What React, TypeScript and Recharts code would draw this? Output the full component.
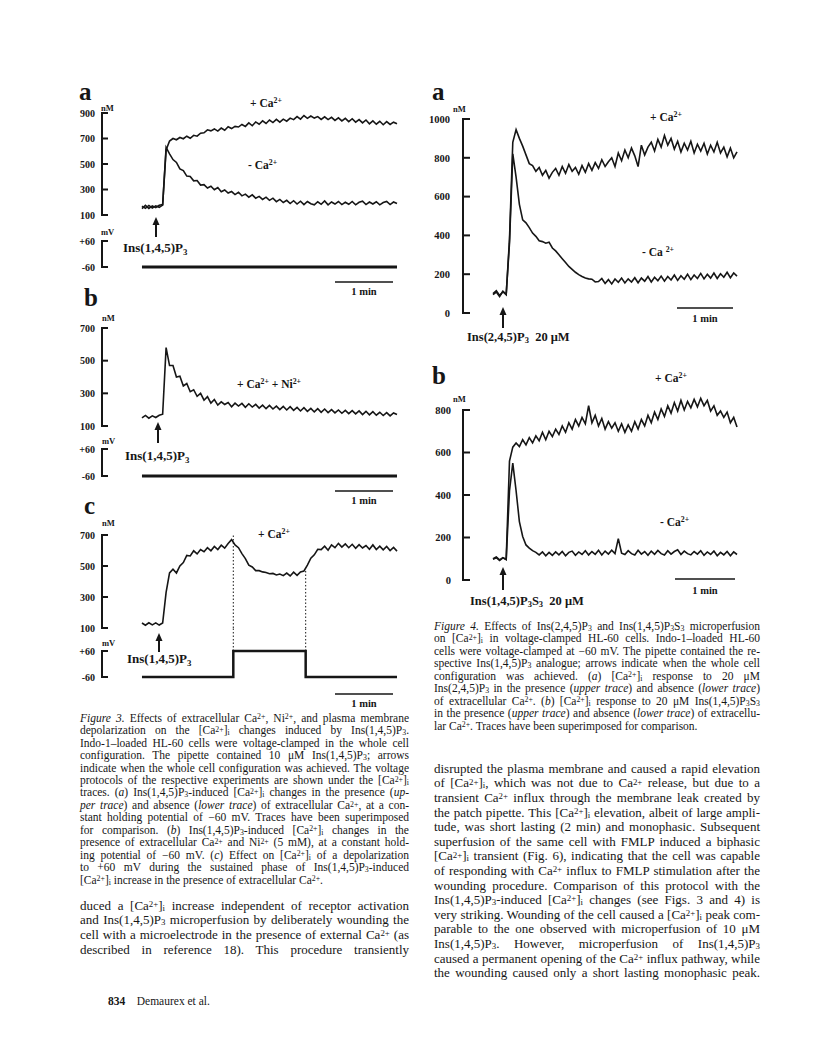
import React from 'react';
import { LineChart, Line, XAxis, YAxis, ReferenceLine } from 'recharts';

const INK = '#161616';
const SERIF = '"Liberation Serif", "Times New Roman", serif';

// Fig. 3a: [Ca2+]i in nM, one sample every ~3.5 s, + Ca2+ and - Ca2+
const fig3aPlusCa = [
  150, 175, 152, 172, 158, 176, 182, 610, 680, 700,
  690, 708, 698, 718, 702, 725, 718, 742, 745, 768,
  760, 775, 758, 782, 765, 792, 778, 795, 790, 810,
  795, 822, 800, 830, 812, 838, 818, 845, 825, 850,
  828, 852, 836, 860, 848, 872, 852, 880, 858, 876,
  860, 872, 850, 870, 848, 866, 842, 862, 838, 858,
  832, 855, 828, 848, 822, 845, 815, 838, 812, 835,
  808, 832, 810, 828, 815,
];
const fig3aMinusCa = [
  170, 152, 175, 155, 172, 160, 178, 630, 580, 535,
  512, 462, 448, 405, 402, 368, 370, 335, 338, 312,
  326, 298, 316, 282, 296, 272, 284, 260, 278, 250,
  264, 240, 258, 232, 246, 222, 240, 215, 232, 205,
  222, 198, 215, 190, 212, 186, 208, 182, 206, 188,
  180, 204, 184, 210, 180, 202, 186, 206, 182, 200,
  184, 206, 180, 200, 208, 182, 202, 186, 204, 180,
  198, 206, 182, 202, 190,
];
// Fig. 3b: + Ca2+ + Ni2+
const fig3bCaNi = [
  150, 165, 148, 162, 152, 166, 172, 580, 470, 470,
  400, 405, 345, 360, 310, 322, 282, 300, 258, 280,
  240, 262, 228, 248, 232, 244, 218, 240, 222, 238,
  214, 236, 216, 232, 210, 228, 206, 226, 204, 222,
  200, 220, 198, 218, 196, 214, 192, 212, 190, 208,
  186, 206, 184, 204, 182, 200, 180, 198, 178, 196,
  176, 194, 174, 192, 170, 190, 168, 188, 166, 184,
  164, 182, 162, 180, 170,
];
// Fig. 3c: + Ca2+ with depolarization step
const fig3cCa = [
  132, 118, 134, 120, 133, 119, 132, 330, 455, 480,
  455, 500, 522, 568, 565, 598, 578, 606, 592, 618,
  598, 626, 606, 634, 615, 645, 670, 636, 618, 580,
  548, 505, 494, 470, 470, 462, 458, 450, 452, 442,
  448, 438, 454, 436, 460, 440, 462, 468, 505, 550,
  572, 608, 606, 628, 602, 636, 618, 646, 622, 642,
  618, 640, 614, 638, 616, 632, 608, 636, 606, 628,
  604, 626, 600, 620, 596,
];
// Fig. 4a: Ins(2,4,5)P3
const fig4aPlusCa = [
  100, 115, 90, 110, 94, 380, 880, 945, 900, 860,
  815, 770, 760, 730, 750, 710, 735, 695, 725, 745,
  710, 755, 720, 765, 730, 750, 715, 760, 725, 770,
  735, 775, 745, 790, 755, 780, 800, 755, 825, 785,
  840, 800, 850, 810, 755, 865, 815, 855, 880, 835,
  895, 855, 915, 865, 900, 845, 885, 830, 875, 840,
  885, 825, 870, 835, 875, 820, 865, 830, 880, 825,
  855, 805, 850, 800, 830,
];
const fig4aMinusCa = [
  95, 108, 85, 112, 96, 360, 820, 700, 560, 480,
  465, 440, 412, 395, 372, 368, 360, 365, 335, 320,
  300, 280, 260, 240, 225, 210, 198, 188, 180, 176,
  174, 160, 162, 178, 152, 172, 150, 175, 158, 180,
  155, 176, 160, 182, 156, 180, 164, 188, 160, 184,
  166, 190, 164, 188, 170, 196, 168, 192, 174, 200,
  172, 196, 178, 204, 176, 200, 180, 206, 178, 202,
  184, 210, 182, 206, 190,
];
// Fig. 4b: Ins(1,4,5)P3S3
const fig4bPlusCa = [
  100, 108, 95, 105, 98, 560, 625, 645, 628, 660,
  636, 670, 645, 678, 655, 695, 660, 700, 675, 710,
  685, 725, 695, 740, 710, 755, 725, 765, 735, 820,
  740, 775, 725, 760, 710, 745, 715, 740, 700, 735,
  695, 730, 700, 745, 710, 755, 725, 775, 740, 790,
  755, 805, 770, 820, 785, 835, 795, 845, 800, 840,
  810, 850, 815, 855, 820, 845, 795, 820, 775, 795,
  765, 790, 740, 765, 720,
];
const fig4bMinusCa = [
  98, 105, 92, 104, 96, 420, 550, 420, 275, 205,
  165, 150, 138, 130, 118, 132, 114, 130, 116, 132,
  118, 134, 114, 130, 136, 116, 132, 120, 138, 118,
  134, 121, 140, 118, 136, 122, 140, 124, 195, 126,
  120, 138, 124, 118, 140, 122, 134, 116, 136, 121,
  139, 124, 118, 138, 122, 134, 142, 120, 136, 124,
  118, 134, 122, 138, 116, 132, 120, 136, 114, 130,
  118, 134, 114, 132, 120,
];

// voltage protocols (sample index, mV)
const holdIdx = [0, 74];
const holdMv = [-60, -60];
const stepIdx = [0, 26.5, 47.5, 74];
const stepMv = [-60, 60, -60, -60];

const ticks3a = [100, 300, 500, 700, 900];
const ticks3bc = [100, 300, 500, 700];
const ticks4a = [0, 200, 400, 600, 800, 1000];
const ticks4b = [0, 200, 400, 600, 800];
const mvTicks = [-60, 60];

const toRows = (cols: Record<string, number[]>) => {
  const keys = Object.keys(cols);
  return cols[keys[0]].map((_, i) => {
    const r: any = { i };
    keys.forEach((k) => (r[k] = cols[k][i]));
    return r;
  });
};
const protoRows = (idx: number[], mv: number[]) => idx.map((t, k) => ({ i: t, v: mv[k] }));

const rows3a = toRows({ up: fig3aPlusCa, lo: fig3aMinusCa });
const rows3b = toRows({ v: fig3bCaNi });
const rows3c = toRows({ v: fig3cCa });
const rows4a = toRows({ up: fig4aPlusCa, lo: fig4aMinusCa });
const rows4b = toRows({ up: fig4bPlusCa, lo: fig4bMinusCa });
const holdRows = protoRows(holdIdx, holdMv);
const stepRows = protoRows(stepIdx, stepMv);

const mvFmt = (v: number) => (v > 0 ? `+${v}` : `${v}`);

const BracketTick = (p: any) => {
  const { x, y, payload, gap, len, fmt, fs } = p;
  return (
    <g>
      <line x1={x - 1} x2={x + len} y1={y} y2={y} stroke={INK} strokeWidth={2} />
      <text x={x - gap} y={y} dy="0.36em" textAnchor="end" fill={INK}
        fontFamily={SERIF} fontWeight="bold" fontSize={fs}>
        {fmt ? fmt(payload.value) : payload.value}
      </text>
    </g>
  );
};

type Geo = { left: number; width: number; axisW: number; xDomain: [number, number] };
const G3: Geo = { left: 60, width: 339, axisW: 42, xDomain: [-11.6, 74] };
const G4: Geo = { left: 420, width: 319, axisW: 43, xDomain: [-9.1, 74] };

function Trace(props: any) {
  const { geo, top, height, mt = 10, mb = 5, data, keys, domain, axisSpan, ticks,
    gap = 7, len = 6, fs = 10, fmt, sw = 1.6, step = false, children } = props;
  const x0 = geo.xDomain[0];
  return (
    <div style={{ position: 'absolute', left: geo.left, top }}>
      <LineChart width={geo.width} height={height} data={data}
        margin={{ top: mt, right: 2, bottom: mb, left: 0 }}>
        <XAxis type="number" dataKey="i" domain={geo.xDomain} hide />
        <YAxis type="number" domain={domain} ticks={ticks} interval={0} width={geo.axisW}
          axisLine={false} tickLine={false} tickSize={0} tickMargin={0}
          tick={<BracketTick gap={gap} len={len} fmt={fmt} fs={fs} />} />
        <ReferenceLine segment={[{ x: x0, y: axisSpan[0] }, { x: x0, y: axisSpan[1] }]}
          stroke={INK} strokeWidth={2} ifOverflow="visible" />
        {children}
        {keys.map((k: string) => (
          <Line key={k} dataKey={k} type={step ? 'stepAfter' : 'linear'} dot={false}
            stroke={INK} strokeWidth={sw} isAnimationActive={false} />
        ))}
      </LineChart>
    </div>
  );
}

// super/subscripts: raised more inside the figures, less in running text
const Su = ({ t }: { t: string }) => <span className="su">{t}</span>;
const Sb = ({ t }: { t: string }) => <span className="sb">{t}</span>;
const Ca = () => <>Ca<Su t="2+" /></>;
const CaI = () => <>[Ca<Su t="2+" />]<Sb t="i" /></>;
const Ins = ({ n = '1,4,5' }: { n?: string }) => <>Ins({n})P<Sb t="3" /></>;

const CSS = `
.su, .sb { font-size: 0.68em; position: relative; line-height: 0; }
.fig .su { top: -0.5em; } .fig .sb { top: 0.3em; }
.txt .su { top: -0.3em; } .txt .sb { top: 0.12em; }
`;

const Lbl = ({ x, y, s = 11.5, b = true, children }: any) => (
  <div className="fig" style={{ position: 'absolute', left: x, top: y - s * 0.6, fontSize: s,
    lineHeight: `${s * 1.2}px`, fontWeight: b ? 'bold' : 'normal', whiteSpace: 'nowrap' }}>{children}</div>
);

const Arrow = ({ x, y1, y2 }: { x: number; y1: number; y2: number }) => (
  <g>
    <line x1={x} x2={x} y1={y1 + 6} y2={y2} stroke={INK} strokeWidth={2} />
    <polygon points={`${x - 3.5},${y1 + 8} ${x + 3.5},${y1 + 8} ${x},${y1}`} fill={INK} />
  </g>
);
const ScaleBar = ({ x1, x2, y, ty }: { x1: number; x2: number; y: number; ty: number }) => (
  <g>
    <line x1={x1} x2={x2} y1={y} y2={y} stroke={INK} strokeWidth={1.5} />
    <text x={(x1 + x2) / 2} y={ty} dy="0.35em" textAnchor="middle" fontFamily={SERIF}
      fontWeight="bold" fontSize={10.5} fill={INK}>1 min</text>
  </g>
);

function Para({ x, y0, lh, w, fs, lines, lastLeft = false }: any) {
  return (
    <>
      {lines.map((ln: React.ReactNode, k: number) => (
        <div key={k} className="txt" style={{ position: 'absolute', left: x, top: y0 + k * lh - lh / 2,
          width: w, height: lh, lineHeight: `${lh}px`, fontSize: fs, whiteSpace: 'nowrap',
          textAlign: 'justify', textAlignLast: lastLeft && k === lines.length - 1 ? 'left' : 'justify' }}>{ln}</div>
      ))}
    </>
  );
}

const cap3 = [
  <><i>Figure 3.</i> Effects of extracellular <Ca />, Ni<Su t="2+" />, and plasma membrane</>,
  <>depolarization on the <CaI /> changes induced by <Ins />.</>,
  <>Indo-1–loaded HL-60 cells were voltage-clamped in the whole cell</>,
  <>configuration. The pipette contained 10 μM <Ins />; arrows</>,
  <>indicate when the whole cell configuration was achieved. The voltage</>,
  <>protocols of the respective experiments are shown under the <CaI /></>,
  <>traces. (<i>a</i>) <Ins />-induced <CaI /> changes in the presence (<i>up-</i></>,
  <><i>per trace</i>) and absence (<i>lower trace</i>) of extracellular <Ca />, at a con-</>,
  <>stant holding potential of −60 mV. Traces have been superimposed</>,
  <>for comparison. (<i>b</i>) <Ins />-induced <CaI /> changes in the</>,
  <>presence of extracellular <Ca /> and Ni<Su t="2+" /> (5 mM), at a constant hold-</>,
  <>ing potential of −60 mV. (<i>c</i>) Effect on <CaI /> of a depolarization</>,
  <>to +60 mV during the sustained phase of <Ins />-induced</>,
  <><CaI /> increase in the presence of extracellular <Ca />.</>,
];
const cap4 = [
  <><i>Figure 4.</i> Effects of <Ins n="2,4,5" /> and <Ins />S<Sb t="3" /> microperfusion</>,
  <>on <CaI /> in voltage-clamped HL-60 cells. Indo-1–loaded HL-60</>,
  <>cells were voltage-clamped at −60 mV. The pipette contained the re-</>,
  <>spective <Ins /> analogue; arrows indicate when the whole cell</>,
  <>configuration was achieved. (<i>a</i>) <CaI /> response to 20 μM</>,
  <><Ins n="2,4,5" /> in the presence (<i>upper trace</i>) and absence (<i>lower trace</i>)</>,
  <>of extracellular <Ca />. (<i>b</i>) <CaI /> response to 20 μM <Ins />S<Sb t="3" /></>,
  <>in the presence (<i>upper trace</i>) and absence (<i>lower trace</i>) of extracellu-</>,
  <>lar <Ca />. Traces have been superimposed for comparison.</>,
];
const bodyL = [
  <>duced a <CaI /> increase independent of receptor activation</>,
  <>and <Ins /> microperfusion by deliberately wounding the</>,
  <>cell with a microelectrode in the presence of external <Ca /> (as</>,
  <>described in reference 18). This procedure transiently</>,
];
const bodyR = [
  <>disrupted the plasma membrane and caused a rapid elevation</>,
  <>of <CaI />, which was not due to <Ca /> release, but due to a</>,
  <>transient <Ca /> influx through the membrane leak created by</>,
  <>the patch pipette. This <CaI /> elevation, albeit of large ampli-</>,
  <>tude, was short lasting (2 min) and monophasic. Subsequent</>,
  <>superfusion of the same cell with FMLP induced a biphasic</>,
  <><CaI /> transient (Fig. 6), indicating that the cell was capable</>,
  <>of responding with <Ca /> influx to FMLP stimulation after the</>,
  <>wounding procedure. Comparison of this protocol with the</>,
  <><Ins />-induced <CaI /> changes (see Figs. 3 and 4) is</>,
  <>very striking. Wounding of the cell caused a <CaI /> peak com-</>,
  <>parable to the one observed with microperfusion of 10 μM</>,
  <><Ins />. However, microperfusion of <Ins /></>,
  <>caused a permanent opening of the <Ca /> influx pathway, while</>,
  <>the wounding caused only a short lasting monophasic peak.</>,
];

export default function App() {
  const dash = { stroke: INK, strokeWidth: 1, strokeDasharray: '1.5 2' };
  return (
    <div style={{ position: 'absolute', left: 0, top: 0, width: 816, height: 1057, background: '#fff',
      overflow: 'hidden', fontFamily: SERIF, color: INK }}>
      <style>{CSS}</style>
      {/* Figure 3a */}
      <Trace geo={G3} top={103} height={117} data={rows3a} keys={['up', 'lo']} domain={[100, 900]}
        axisSpan={[100, 900]} ticks={ticks3a} />
      <Trace geo={G3} top={231} height={42} mb={6} data={holdRows} keys={['v']} domain={[-60, 60]}
        axisSpan={[-60, 60]} ticks={mvTicks} fmt={mvFmt} sw={3} />
      {/* Figure 3b */}
      <Trace geo={G3} top={318} height={113} data={rows3b} keys={['v']} domain={[100, 700]}
        axisSpan={[100, 700]} ticks={ticks3bc} />
      <Trace geo={G3} top={439} height={43} mb={6} data={holdRows} keys={['v']} domain={[-60, 60]}
        axisSpan={[-60, 60]} ticks={mvTicks} fmt={mvFmt} sw={3} />
      {/* Figure 3c */}
      <Trace geo={G3} top={525} height={108} data={rows3c} keys={['v']} domain={[100, 700]}
        axisSpan={[100, 700]} ticks={ticks3bc}>
        <ReferenceLine x={stepIdx[1]} {...dash} />
        <ReferenceLine segment={[{ x: stepIdx[2], y: fig3cCa[47] }, { x: stepIdx[2], y: 100 }]} {...dash} />
      </Trace>
      <Trace geo={G3} top={618} height={65} mb={6} data={stepRows} keys={['v']} domain={[-60, 166]}
        axisSpan={[-60, 60]} ticks={mvTicks} fmt={mvFmt} sw={2.5} step>
        <ReferenceLine segment={[{ x: stepIdx[1], y: 60 }, { x: stepIdx[1], y: 166 }]} {...dash} />
        <ReferenceLine segment={[{ x: stepIdx[2], y: 60 }, { x: stepIdx[2], y: 166 }]} {...dash} />
      </Trace>
      {/* Figure 4a */}
      <Trace geo={G4} top={109} height={209} data={rows4a} keys={['up', 'lo']} domain={[0, 1000]}
        axisSpan={[0, 1000]} ticks={ticks4a} gap={13} len={7} fs={10.5} />
      {/* Figure 4b */}
      <Trace geo={G4} top={383} height={202} data={rows4b} keys={['up', 'lo']} domain={[0, 880]}
        axisSpan={[0, 800]} ticks={ticks4b} gap={12} len={7} fs={10.5} />

      <svg width={816} height={1057} style={{ position: 'absolute', left: 0, top: 0, pointerEvents: 'none' }}>
        <Arrow x={156} y1={217} y2={237} />
        <Arrow x={158} y1={422} y2={443} />
        <Arrow x={159} y1={633} y2={652} />
        <Arrow x={503} y1={307} y2={328} />
        <Arrow x={503} y1={567} y2={590} />
        <ScaleBar x1={335} x2={393} y={282} ty={291} />
        <ScaleBar x1={335} x2={393} y={491} ty={500} />
        <ScaleBar x1={335} x2={393} y={694} ty={703} />
        <ScaleBar x1={677} x2={733} y={308} ty={318} />
        <ScaleBar x1={675} x2={735} y={579} ty={590} />
      </svg>

      {/* panel letters */}
      <Lbl x={79} y={92} s={25}>a</Lbl>
      <Lbl x={84} y={298} s={25}>b</Lbl>
      <Lbl x={84} y={506} s={25}>c</Lbl>
      <Lbl x={432} y={92} s={25}>a</Lbl>
      <Lbl x={432} y={376} s={25}>b</Lbl>

      {/* units */}
      <Lbl x={101} y={108} s={8.5}>nM</Lbl>
      <Lbl x={101} y={232} s={8.5}>mV</Lbl>
      <Lbl x={102} y={318} s={8.5}>nM</Lbl>
      <Lbl x={102} y={441} s={8.5}>mV</Lbl>
      <Lbl x={102} y={523} s={8.5}>nM</Lbl>
      <Lbl x={102} y={643} s={8.5}>mV</Lbl>
      <Lbl x={453} y={109} s={8.5}>nM</Lbl>
      <Lbl x={453} y={399} s={8.5}>nM</Lbl>

      {/* trace labels */}
      <Lbl x={250} y={104}>+ <Ca /></Lbl>
      <Lbl x={248} y={166}>- <Ca /></Lbl>
      <Lbl x={237} y={385}>+ <Ca />  + Ni<Su t="2+" /></Lbl>
      <Lbl x={258} y={535}>+ <Ca /></Lbl>
      <Lbl x={650} y={118}>+ <Ca /></Lbl>
      <Lbl x={642} y={253}>- Ca <Su t="2+" /></Lbl>
      <Lbl x={655} y={379}>+ <Ca /></Lbl>
      <Lbl x={660} y={523}>- <Ca /></Lbl>

      {/* agonist labels */}
      <Lbl x={123} y={248} s={13}><Ins /></Lbl>
      <Lbl x={125} y={456} s={13}><Ins /></Lbl>
      <Lbl x={127} y={659} s={13}><Ins /></Lbl>
      <Lbl x={467} y={337} s={12.5}><Ins n="2,4,5" />{'\u00a0\u00a0'}20 μM</Lbl>
      <Lbl x={470} y={601} s={12.5}><Ins />S<Sb t="3" />{'\u00a0\u00a0'}20 μM</Lbl>

      {/* captions and text */}
      <Para x={80} y0={718} lh={12.45} w={329} fs={11.5} lines={cap3} lastLeft />
      <Para x={434} y0={626} lh={12.5} w={326} fs={11.5} lines={cap4} lastLeft />
      <Para x={80} y0={906} lh={14.6} w={329} fs={13} lines={bodyL} />
      <Para x={434} y0={769} lh={14.6} w={326} fs={13} lines={bodyR} />

      <div style={{ position: 'absolute', left: 108, top: 995, fontSize: 11.5, whiteSpace: 'nowrap' }}>
        <b>834</b>{'\u00a0\u00a0\u00a0\u00a0'}Demaurex et al.
      </div>
    </div>
  );
}
